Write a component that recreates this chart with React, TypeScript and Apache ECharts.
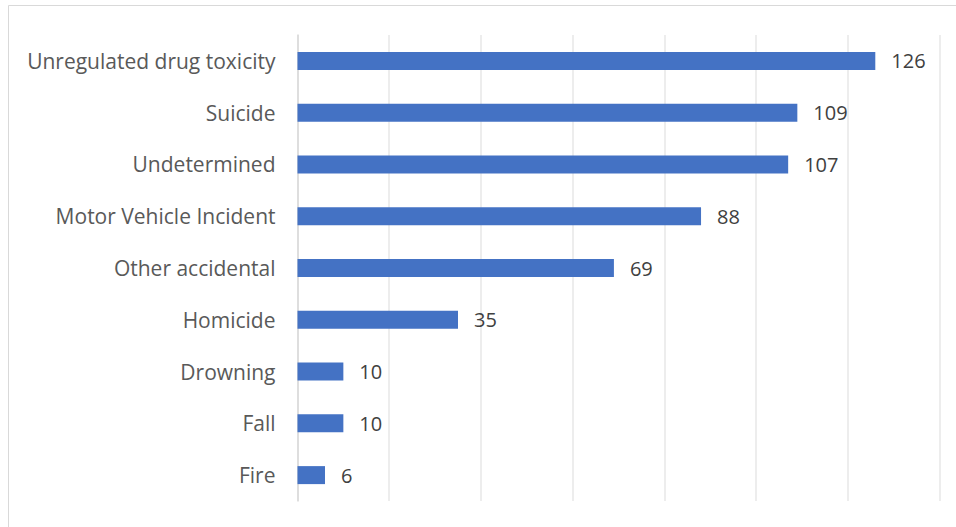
import React, { useEffect, useRef } from "react";
import * as echarts from "echarts";

const categories = [
  "Unregulated drug toxicity",
  "Suicide",
  "Undetermined",
  "Motor Vehicle Incident",
  "Other accidental",
  "Homicide",
  "Drowning",
  "Fall",
  "Fire",
];
const values = [126, 109, 107, 88, 69, 35, 10, 10, 6];

const FONT = "Open Sans";

export default function App() {
  const ref = useRef<HTMLDivElement>(null);
  useEffect(() => {
    const chart = echarts.init(ref.current!, null, { renderer: "svg" });
    chart.setOption({
      animation: false,
      backgroundColor: "#ffffff",
      textStyle: { fontFamily: FONT },
      graphic: [
        {
          type: "rect",
          shape: { x: 8.5, y: 5.5, width: 1000, height: 600 },
          style: { fill: "none", stroke: "#d9d9d9", lineWidth: 1 },
          silent: true,
        },
      ],
      grid: { left: 297.5, right: 16.5, top: 35, bottom: 26, containLabel: false },
      xAxis: {
        type: "value",
        min: 0,
        max: 140,
        interval: 20,
        axisLabel: { show: false },
        axisLine: { show: false },
        axisTick: { show: false },
        splitLine: { show: true, lineStyle: { color: "#e7e7e7", width: 1.5 } },
      },
      yAxis: {
        type: "category",
        data: categories,
        inverse: true,
        axisLine: { show: true, lineStyle: { color: "#d9d9d9", width: 1.5 } },
        axisTick: { show: false },
        axisLabel: { color: "#595959", fontSize: 21, margin: 22, fontFamily: FONT },
      },
      series: [
        {
          type: "bar",
          data: values,
          barWidth: 18,
          itemStyle: { color: "#4472c4" },
          label: {
            show: true,
            position: "right",
            distance: 16,
            color: "#404040",
            fontSize: 20,
            fontFamily: FONT,
          },
        },
      ],
    });
    return () => chart.dispose();
  }, []);
  return (
    <div
      ref={ref}
      style={{ position: "absolute", left: 0, top: 0, width: 956, height: 527 }}
    />
  );
}
